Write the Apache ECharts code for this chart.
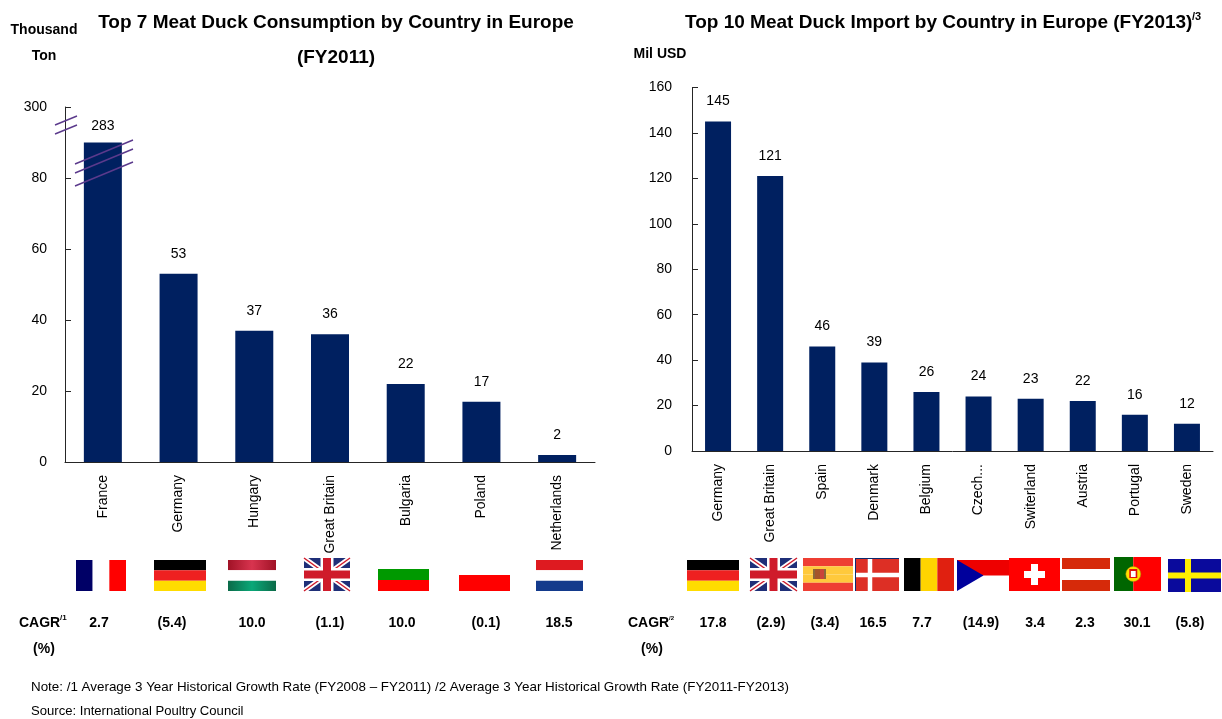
<!DOCTYPE html>
<html>
<head>
<meta charset="utf-8">
<style>html,body{margin:0;padding:0;background:#fff}#chart{width:1222px;height:719px}</style>
<script src="https://cdn.jsdelivr.net/npm/echarts@6/dist/echarts.min.js"></script>
</head>
<body>
<div id="chart"></div>
<script>
// Consumption (thousand ton, FY2011)
const consumptionCountries = ['France','Germany','Hungary','Great Britain','Bulgaria','Poland','Netherlands'];
const consumptionValues = [283,53,37,36,22,17,2];
const consumptionCagr = ['2.7','(5.4)','10.0','(1.1)','10.0','(0.1)','18.5'];
const consumptionTicks = [0,20,40,60,80,300];

// Import (million USD, FY2013)
const importCountries = ['Germany','Great Britain','Spain','Denmark','Belgium','Czech...','Switerland','Austria','Portugal','Sweden'];
const importValues = [145,121,46,39,26,24,23,22,16,12];
const importCagr = ['17.8','(2.9)','(3.4)','16.5','7.7','(14.9)','3.4','2.3','30.1','(5.8)'];

// Horizontal centres of the growth-rate columns
const consumptionCagrX = [99,172,252,330,402,486,559];
const importCagrX = [713,771,825,873,922,981,1035,1085,1137,1190];

const FONT = '"Liberation Sans", Arial, sans-serif';
const INK = '#000';
const NAVY = '#002060';
const SLASH = '#5b3a8c';
const AXIS = '#262626';

function text(x, y, str, size, bold, align) {
  return {type:'text', x, y, z:20, style:{
    text:str, fill:INK, fontFamily:FONT, fontSize:size, fontWeight:bold?'bold':'normal',
    textAlign:align||'center', textVerticalAlign:'middle'
  }};
}
function rect(x,y,w,h,fill){ return {type:'rect', shape:{x,y,width:w,height:h}, style:{fill}, z:10}; }
function line(x1,y1,x2,y2,stroke,lw,z){ return {type:'line', shape:{x1,y1,x2,y2}, style:{stroke,lineWidth:lw}, z:z||10}; }
function poly(points,fill){ return {type:'polygon', shape:{points}, style:{fill}, z:10}; }

// Flag drawing helpers
function hStripes(x,y,w,h,colors){
  const s=h/colors.length;
  return colors.map((c,i)=>rect(x,y+i*s,w,s,c));
}
function vStripes(x,y,w,h,colors){
  const s=w/colors.length;
  return colors.map((c,i)=>rect(x+i*s,y,s,h,c));
}
function union(x,y,w,h){
  const x2=x+w,y2=y+h,cx=x+w/2,cy=y+h/2;
  return [
    rect(x,y,w,h,'#1f2f78'),
    line(x,y,x2,y2,'#fff',5), line(x2,y,x,y2,'#fff',5),
    line(x,y,x2,y2,'#cf1b2b',1.5), line(x2,y,x,y2,'#cf1b2b',1.5),
    rect(cx-6.5,y,13,h,'#fff'), rect(x,cy-6.5,w,13,'#fff'),
    rect(cx-4,y,8,h,'#cf1b2b'), rect(x,cy-4,w,8,'#cf1b2b')
  ];
}
function nordic(x,y,w,h,bg,fg,cx,t){
  return [rect(x,y,w,h,bg), rect(cx-t/2,y,t,h,fg), rect(x,y+h/2-t/2,w,t,fg)];
}
function hungary(x,y,w,h){
  const s=h/3;
  const grad=(a,b)=>({type:'linear',x:0,y:0,x2:1,y2:0,colorStops:[{offset:0,color:a},{offset:.5,color:b},{offset:1,color:a}]});
  return [rect(x,y,w,s,grad('#a01226','#d8344f')), rect(x,y+s,w,s,'#fff'), rect(x,y+2*s,w,s,grad('#0b6a48','#0aa878'))];
}
function spain(x,y,w,h){
  return [...hStripes(x,y,w,h,['#ee3e33','#ffc93c','#ffc93c','#ee3e33']),
    rect(x+10,y+11,2,10,'#8a6a3a'), rect(x+12,y+11,5,10,'#a5552a'), rect(x+17,y+11,4,10,'#c9463a'), rect(x+21,y+11,2,10,'#8a6a3a')];
}
function czech(x,y,w,h){
  return [rect(x,y,w,h/2,'#ee0000'), poly([[x,y],[x+w*0.51,y+h/2],[x,y+h]],'#00009c')];
}
function swiss(x,y,w,h){
  const cx=x+w/2,cy=y+h/2;
  return [rect(x,y,w,h,'#ff0000'), rect(cx-10.5,cy-3.5,21,7,'#fff'), rect(cx-3.5,cy-10.5,7,21,'#fff')];
}
function portugal(x,y,w,h){
  const cx=x+w*0.41,cy=y+h/2;
  return [rect(x,y,w*0.41,h,'#006600'), rect(x+w*0.41,y,w*0.59,h,'#ff0000'),
    {type:'circle',shape:{cx,cy,r:7.5},style:{fill:'#ffe000',stroke:'#a88c00',lineWidth:.5},z:11},
    Object.assign(rect(cx-4,cy-5,8,9,'#e01010'),{z:12}), Object.assign(rect(cx-2.4,cy-3,4.8,6,'#fff'),{z:13})];
}

const flags = [
  ...vStripes(76,560,50,31,['#000066','#fff','#ff0000']),
  ...hStripes(154,560,52,31,['#000','#ee2020','#ffdc00']),
  ...hungary(228,560,48,31),
  ...union(304,558,46,33),
  rect(378,569,51,11,'#009900'), rect(378,580,51,11,'#ff0000'),
  rect(459,575,51,16,'#ff0000'),
  ...hStripes(536,560,47,31,['#de1a20','#fff','#133a8c']),

  ...hStripes(687,560,52,31,['#000','#ee2020','#ffdc00']),
  ...union(750,558,47,33),
  ...spain(803,558,50,33),
  rect(855,558,44,33,'#0a2a70'), ...nordic(856,559,43,32,'#dd2f25','#fff',870,4.5),
  ...vStripes(904,558,50,33,['#000','#ffd400','#e02010']),
  ...czech(957,560,52,31),
  ...swiss(1009,558,51,33),
  ...hStripes(1062,558,48,33,['#d62a0a','#fff','#d62a0a']),
  ...portugal(1114,557,47,34),
  ...nordic(1168,559,53,33,'#0a0a9c','#ffee00',1188,6)
];

// Slash marks showing where the left value axis is interrupted
const slashes = [
  line(55,125,77,116,SLASH,1.4,15), line(55,134,77,125,SLASH,1.4,15),
  line(75,164,133,140,SLASH,1.4,15), line(75,173,133,149,SLASH,1.4,15), line(75,186,133,162,SLASH,1.4,15)
];

const labels = [
  text(44,30,'Thousand',14,true),
  text(44,56,'Ton',14,true),
  text(660,54,'Mil USD',14,true),
  text(336,23,'Top 7 Meat Duck Consumption by Country in Europe',19,true),
  text(336,58,'(FY2011)',19,true),
  text(685,23,'Top 10 Meat Duck Import by Country in Europe (FY2013)',19,true,'left'),
  text(1192,17,'/3',11,true,'left'),
  text(19,623,'CAGR',14,true,'left'),
  text(60,618,'/1',8,true,'left'),
  text(44,649,'(%)',14,true),
  text(628,623,'CAGR',14,true,'left'),
  text(669,618,'/2',6,true,'left'),
  text(652,649,'(%)',14,true),
  ...consumptionCagr.map((v,i)=>text(consumptionCagrX[i],623,v,14,true)),
  ...importCagr.map((v,i)=>text(importCagrX[i],623,v,14,true)),
  text(31,687,'Note: /1 Average 3 Year Historical Growth Rate (FY2008 – FY2011) /2 Average 3 Year Historical Growth Rate (FY2011-FY2013)',13.4,false,'left'),
  text(31,711,'Source: International Poultry Council',13.1,false,'left')
];

const catAxis = (gridIndex,data)=>({
  type:'category', gridIndex, data,
  axisLine:{lineStyle:{color:AXIS,width:1}}, axisTick:{show:false},
  axisLabel:{rotate:90,color:INK,fontFamily:FONT,fontSize:14,margin:13,interval:0}
});
const barSeries = (idx,data,width)=>({
  type:'bar', xAxisIndex:idx, yAxisIndex:idx, barWidth:width, silent:true,
  data:data.map(v=>v>200?{value:v,label:{distance:9}}:v),
  itemStyle:{color:NAVY},
  label:{show:true,position:'top',distance:13,color:INK,fontFamily:FONT,fontSize:14}
});

const chart = echarts.init(document.getElementById('chart'),null,{renderer:'canvas'});
chart.setOption({
  animation:false,
  backgroundColor:'#fff',
  grid:[
    {left:65,top:107,width:530,height:355},
    {left:692,top:87.5,width:521,height:363.5}
  ],
  xAxis:[catAxis(0,consumptionCountries),catAxis(1,importCountries)],
  yAxis:[
    {type:'value',gridIndex:0,min:0,max:300,
     breaks:[{start:90,end:283,gap:0},{start:283.5,end:299.5,gap:9}],
     breakArea:{show:false},
     splitLine:{show:false},
     axisLine:{show:true,breakLine:false,lineStyle:{color:AXIS,width:1}},
     axisTick:{show:true,inside:true,length:6,lineStyle:{color:AXIS},customValues:consumptionTicks},
     axisLabel:{color:INK,fontFamily:FONT,fontSize:14,margin:18,customValues:consumptionTicks}},
    {type:'value',gridIndex:1,min:0,max:160,interval:20,
     splitLine:{show:false},
     axisLine:{show:true,lineStyle:{color:AXIS,width:1}},
     axisTick:{show:true,inside:true,length:6,lineStyle:{color:AXIS}},
     axisLabel:{color:INK,fontFamily:FONT,fontSize:14,margin:20}}
  ],
  series:[barSeries(0,consumptionValues,38),barSeries(1,importValues,26)],
  graphic:{elements:[...flags,...slashes,...labels]}
});
</script>
</body>
</html>
